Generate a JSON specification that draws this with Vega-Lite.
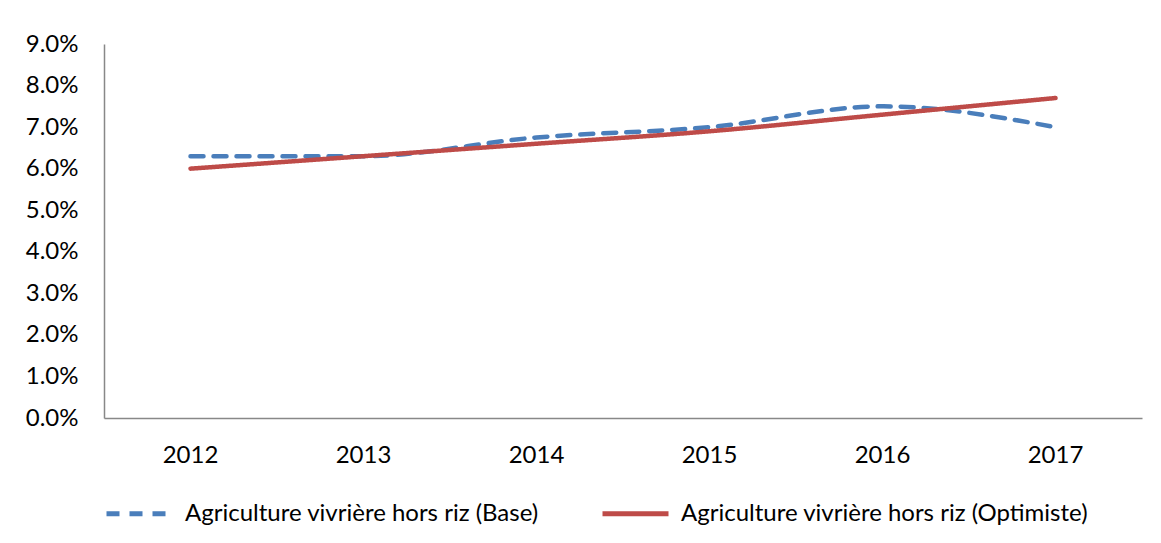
{
  "$schema": "https://vega.github.io/schema/vega-lite/v6.json",
  "width": 1038,
  "height": 374,
  "autosize": {"type": "none"},
  "padding": {"left": 104, "top": 44, "right": 19, "bottom": 125},
  "background": "white",
  "data": {"values": [
    {"year": "2012", "series": "Agriculture vivrière hors riz (Base)", "value": 0.063},
    {"year": "2013", "series": "Agriculture vivrière hors riz (Base)", "value": 0.063},
    {"year": "2014", "series": "Agriculture vivrière hors riz (Base)", "value": 0.0675},
    {"year": "2015", "series": "Agriculture vivrière hors riz (Base)", "value": 0.070},
    {"year": "2016", "series": "Agriculture vivrière hors riz (Base)", "value": 0.075},
    {"year": "2017", "series": "Agriculture vivrière hors riz (Base)", "value": 0.070},
    {"year": "2012", "series": "Agriculture vivrière hors riz (Optimiste)", "value": 0.060},
    {"year": "2013", "series": "Agriculture vivrière hors riz (Optimiste)", "value": 0.063},
    {"year": "2014", "series": "Agriculture vivrière hors riz (Optimiste)", "value": 0.066},
    {"year": "2015", "series": "Agriculture vivrière hors riz (Optimiste)", "value": 0.069},
    {"year": "2016", "series": "Agriculture vivrière hors riz (Optimiste)", "value": 0.073},
    {"year": "2017", "series": "Agriculture vivrière hors riz (Optimiste)", "value": 0.077}
  ]},
  "mark": {"type": "line", "interpolate": "monotone", "strokeWidth": 4.5, "strokeCap": "round"},
  "encoding": {
    "x": {
      "field": "year", "type": "ordinal", "title": null,
      "scale": {"type": "band", "paddingInner": 0, "paddingOuter": 0},
      "axis": {"labelAngle": 0, "ticks": false, "domainColor": "#888888", "domainWidth": 1.5, "labelFont": "Lato", "labelFontSize": 24, "labelColor": "#000000", "labelPadding": 25, "grid": false}
    },
    "y": {
      "field": "value", "type": "quantitative", "title": null,
      "scale": {"domain": [0, 0.09]},
      "axis": {"format": ".1%", "values": [0, 0.01, 0.02, 0.03, 0.04, 0.05, 0.06, 0.07, 0.08, 0.09], "ticks": false, "grid": false, "domainColor": "#888888", "domainWidth": 1.5, "labelFont": "Lato", "labelFontSize": 24, "labelColor": "#000000", "labelPadding": 26}
    },
    "color": {
      "field": "series", "type": "nominal", "title": null,
      "scale": {"range": ["#4A7EBB", "#BE4B48"]},
      "legend": {"orient": "none", "legendX": 0, "legendY": 434, "direction": "horizontal", "columns": 2, "columnPadding": 53, "symbolType": "stroke", "symbolSize": 4356, "symbolStrokeWidth": 5, "labelFont": "Lato", "labelFontSize": 24, "labelColor": "#000000", "labelOffset": 10, "labelLimit": 0}
    },
    "strokeDash": {
      "field": "series", "type": "nominal", "title": null,
      "scale": {"range": [[13, 10], [1, 0]]},
      "legend": {"orient": "none", "legendX": 0, "legendY": 434, "direction": "horizontal", "columns": 2, "columnPadding": 53, "symbolType": "stroke", "symbolSize": 4356, "symbolStrokeWidth": 5, "labelFont": "Lato", "labelFontSize": 24, "labelColor": "#000000", "labelOffset": 10, "labelLimit": 0}
    }
  },
  "config": {"view": {"stroke": null}}
}
